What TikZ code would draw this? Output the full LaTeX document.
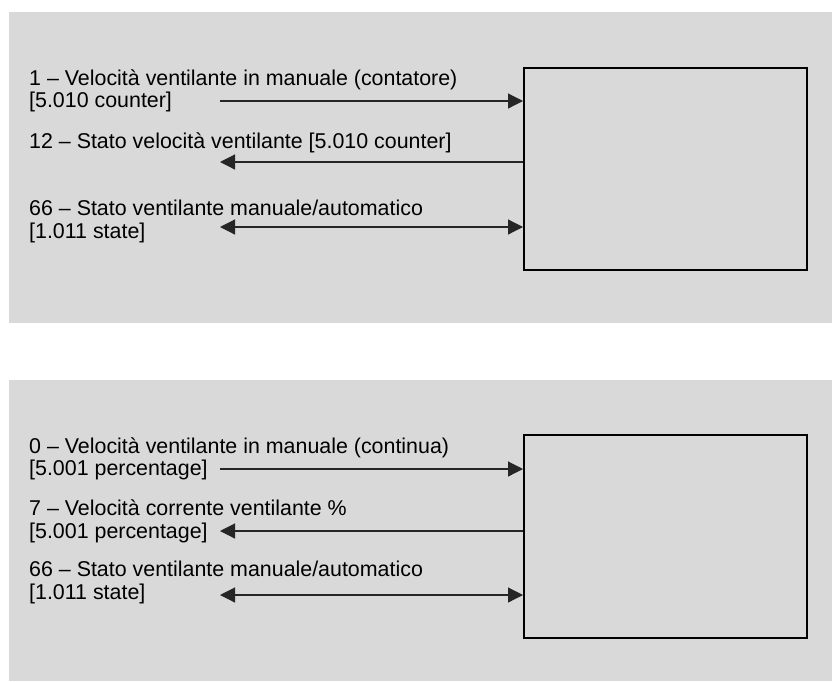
\documentclass[tikz,border=0pt]{standalone}
\usepackage{fontspec}
\setmainfont{Liberation Sans}
\usetikzlibrary{arrows.meta}
\definecolor{panelgray}{HTML}{D9D9D9}
\tikzset{
  panel/.style={fill=panelgray, draw=none},
  blockbox/.style={draw=black, line width=2pt, fill=none, inner sep=0pt},
  lbl/.style={anchor=base west, inner sep=0pt, font=\fontsize{21.4}{22}\selectfont},
  sig/.style={line width=1.2pt, draw=black!85},
  tip/.style={-{Triangle[length=15pt,width=15pt]}},
  tipboth/.style={{Triangle[length=15pt,width=15pt]}-{Triangle[length=15pt,width=15pt]}},
}
\begin{document}
\begin{tikzpicture}[x=1pt,y=-1pt]
\useasboundingbox (0,0) rectangle (832,681);
% panels
\path[panel] (9,12) rectangle (832,323);
\path[panel] (9,380) rectangle (832,681);
% boxes
\node[blockbox, minimum width=283pt, minimum height=202pt, anchor=north west] (boxA) at (523,67) {};
\node[blockbox, minimum width=283pt, minimum height=203pt, anchor=north west] (boxB) at (523,434) {};
% top labels
\node[lbl] (t1a) at (29,85.5) {1 – Velocità ventilante in manuale (contatore)};
\node[lbl] (t1b) at (29,107.5) {[5.010 counter]};
\node[lbl] (t2a) at (29,148) {12 – Stato velocità ventilante [5.010 counter]};
\node[lbl] (t3a) at (29,215) {66 – Stato ventilante manuale/automatico};
\node[lbl] (t3b) at (29,238) {[1.011 state]};
% bottom labels
\node[lbl] (b1a) at (29,453.5) {0 – Velocità ventilante in manuale (continua)};
\node[lbl] (b1b) at (29,475.5) {[5.001 percentage]};
\node[lbl] (b2a) at (29,515.5) {7 – Velocità corrente ventilante \%};
\node[lbl] (b2b) at (29,538) {[5.001 percentage]};
\node[lbl] (b3a) at (29,576.5) {66 – Stato ventilante manuale/automatico};
\node[lbl] (b3b) at (29,599) {[1.011 state]};
% connector endpoints
\coordinate (a1) at (220,101);
\coordinate (a2) at (220,162);
\coordinate (a3) at (220,227);
\coordinate (c1) at (220,469);
\coordinate (c2) at (220,531);
\coordinate (c3) at (220,595);
% top connectors
\draw[sig, tip] (a1) -- (a1 -| boxA.west);
\draw[sig, tip] (a2 -| boxA.west) -- (a2);
\draw[sig, tipboth] (a3) -- (a3 -| boxA.west);
% bottom connectors
\draw[sig, tip] (c1) -- (c1 -| boxB.west);
\draw[sig, tip] (c2 -| boxB.west) -- (c2);
\draw[sig, tipboth] (c3) -- (c3 -| boxB.west);
\end{tikzpicture}
\end{document}
